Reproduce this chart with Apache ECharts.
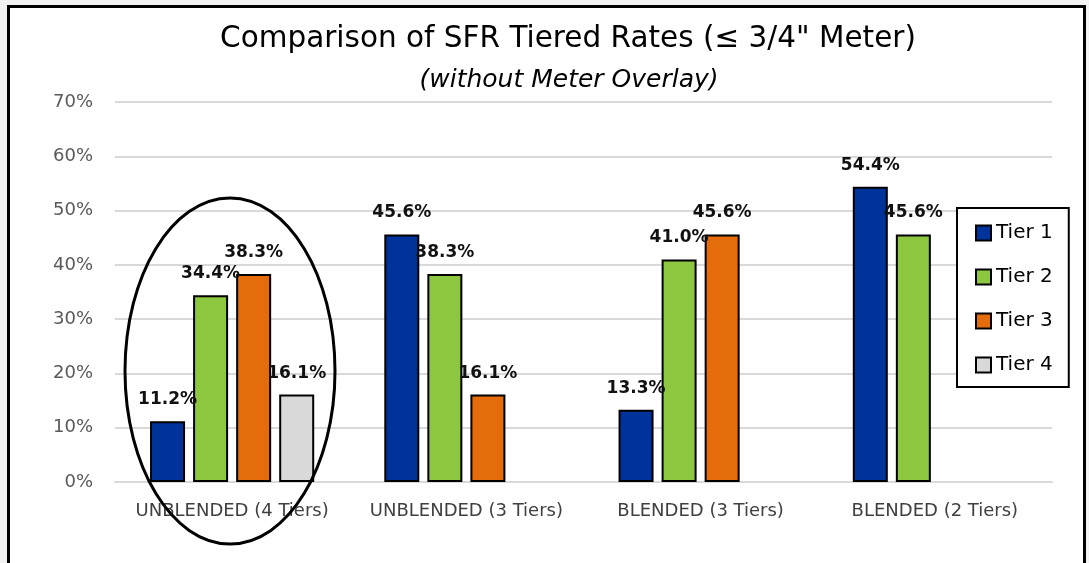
<!DOCTYPE html>
<html>
<head>
<meta charset="utf-8">
<script src="https://cdn.jsdelivr.net/npm/echarts@6/dist/echarts.min.js"></script>
<style>
html,body{margin:0;padding:0;background:#f2f2f2;width:1089px;height:563px;overflow:hidden;}
#panel{position:absolute;left:7px;top:5px;width:1073px;height:600px;background:#fff;border:3px solid #000;border-bottom:none;}
#chart{position:absolute;left:0;top:0;width:1089px;height:563px;}
</style>
</head>
<body>
<div id="panel"></div>
<div id="chart"></div>
<script>
const categories = ['UNBLENDED (4 Tiers)', 'UNBLENDED (3 Tiers)', 'BLENDED (3 Tiers)', 'BLENDED (2 Tiers)'];
const tier1 = [11.2, 45.6, 13.3, 54.4];
const tier2 = [34.4, 38.3, 41.0, 45.6];
const tier3 = [38.3, 16.1, 45.6, null];
const tier4 = [16.1, null, null, null];
const seriesNames = ['Tier 1', 'Tier 2', 'Tier 3', 'Tier 4'];
const yTicks = [0, 10, 20, 30, 40, 50, 60, 70];

const colors = ['#003399', '#8dc63f', '#e46c0a', '#d9d9d9'];
const dataSets = [tier1, tier2, tier3, tier4];

const chart = echarts.init(document.getElementById('chart'), null, {renderer: 'canvas'});
const series = seriesNames.map((name, i) => ({
  name: name,
  type: 'bar',
  data: dataSets[i],
  barWidth: 35,
  barGap: '23%',
  itemStyle: {color: colors[i], borderColor: '#000', borderWidth: 2},
  label: {
    show: true,
    position: 'top',
    distance: 13,
    formatter: p => p.value == null ? '' : p.value.toFixed(1) + '%',
    fontFamily: 'DejaVu Sans',
    fontWeight: 'bold',
    fontSize: 17,
    color: '#111'
  }
}));

chart.setOption({
  backgroundColor: 'transparent',
  animation: false,
  title: [
    {text: 'Comparison of SFR Tiered Rates (\u2264 3/4" Meter)', left: 563, top: 19, textAlign: 'center',
     textStyle: {fontFamily: 'DejaVu Sans', fontSize: 29.5, fontWeight: 'normal', color: '#000'}},
    {text: '(without Meter Overlay)', left: 564, top: 63, textAlign: 'center',
     textStyle: {fontFamily: 'DejaVu Sans', fontSize: 25, fontStyle: 'italic', fontWeight: 'normal', color: '#000'}}
  ],
  legend: {
    orient: 'vertical',
    left: 957, top: 208,
    data: seriesNames,
    itemWidth: 15, itemHeight: 15,
    itemGap: 24,
    padding: [15, 16, 12, 18],
    borderColor: '#000', borderWidth: 2,
    backgroundColor: '#fff',
    icon: 'rect',
    textStyle: {fontFamily: 'DejaVu Sans', fontSize: 20, color: '#000'}
  },
  grid: {left: 115, right: 37, top: 102, bottom: 81},
  xAxis: {
    type: 'category',
    data: categories,
    axisTick: {show: false},
    axisLine: {lineStyle: {color: '#d9d9d9', width: 2}},
    axisLabel: {interval: 0, margin: 20, fontFamily: 'DejaVu Sans', fontSize: 18, color: '#404040'}
  },
  yAxis: {
    type: 'value',
    min: yTicks[0], max: yTicks[yTicks.length - 1], interval: 10,
    axisLine: {show: false},
    axisTick: {show: false},
    splitLine: {lineStyle: {color: '#d9d9d9', width: 2}},
    axisLabel: {margin: 22, formatter: '{value}%', fontFamily: 'DejaVu Sans', fontSize: 18, color: '#595959'}
  },
  series: series,
  graphic: [{
    type: 'ellipse',
    shape: {cx: 230, cy: 371, rx: 105, ry: 173},
    style: {fill: 'none', stroke: '#000', lineWidth: 3},
    z: 100
  }]
});
</script>
</body>
</html>
